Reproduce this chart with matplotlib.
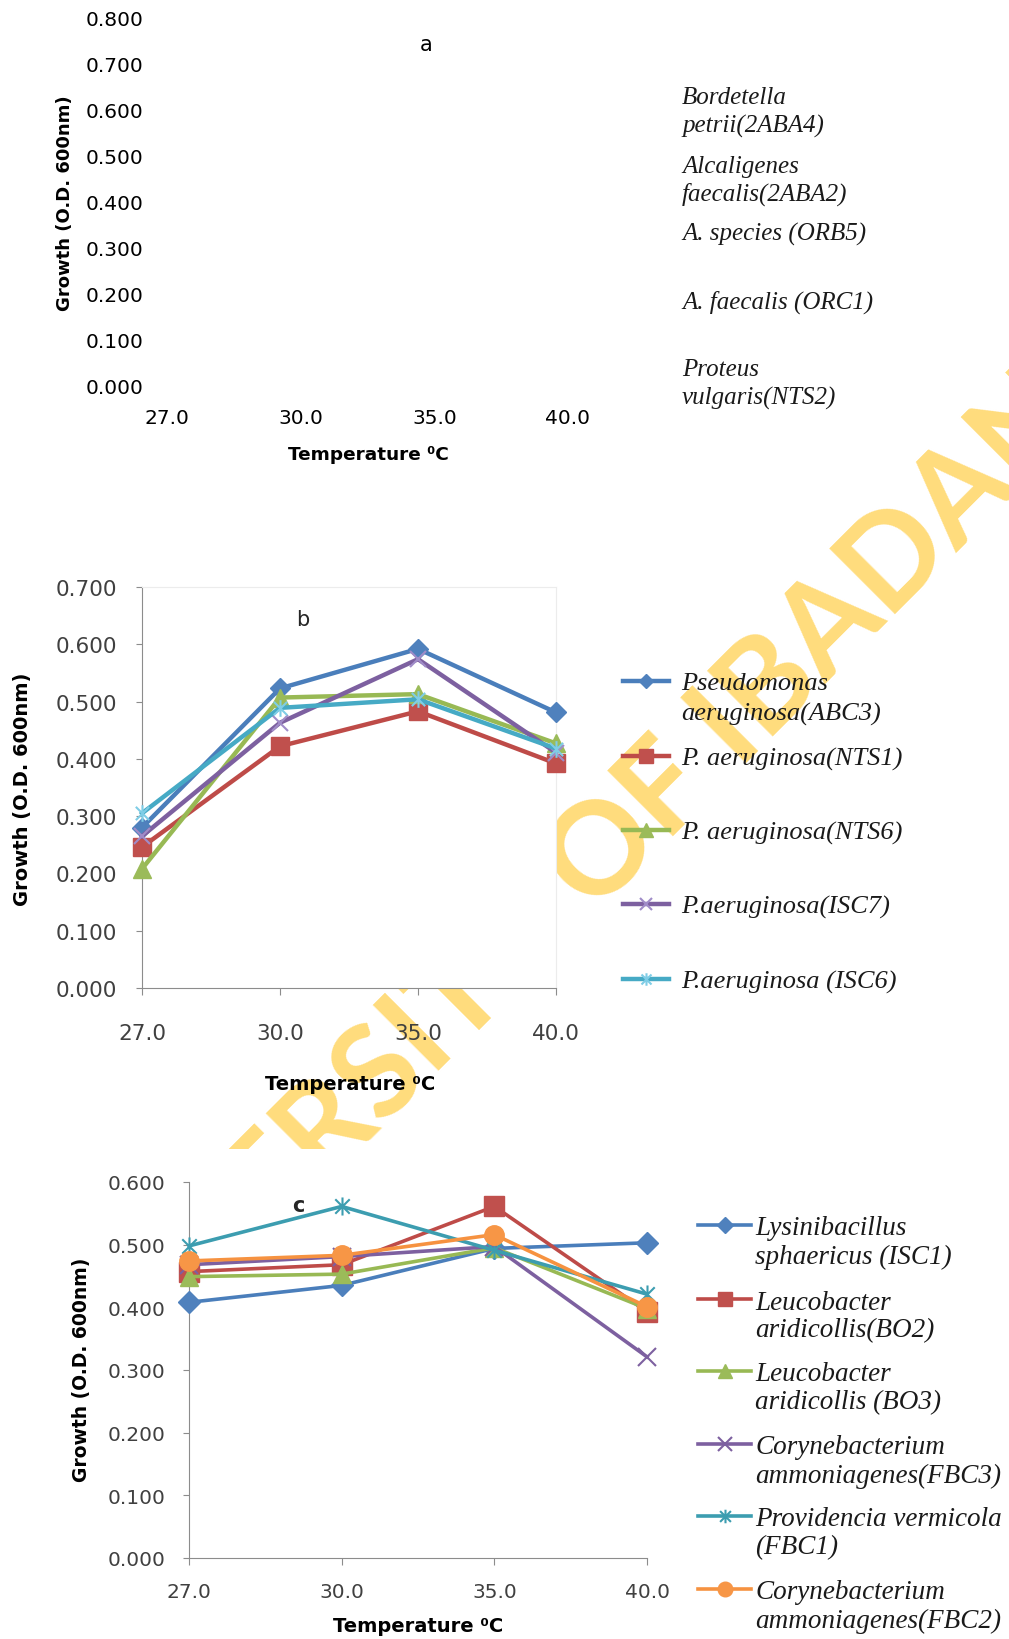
import matplotlib
matplotlib.use("Agg")
import matplotlib.pyplot as plt
from matplotlib import font_manager
from matplotlib.lines import Line2D
from matplotlib.patches import Rectangle
from matplotlib.path import Path

# %% data
temps = ["27.0", "30.0", "35.0", "40.0"]

# panel a: only the legend names, no series were drawn
names_a = ["Bordetella\npetrii(2ABA4)", "Alcaligenes\nfaecalis(2ABA2)",
           "A. species (ORB5)", "A. faecalis (ORC1)", "Proteus\nvulgaris(NTS2)"]

# panel b
names_b = ["Pseudomonas\naeruginosa(ABC3)", "P. aeruginosa(NTS1)", "P. aeruginosa(NTS6)",
           "P.aeruginosa(ISC7)", "P.aeruginosa (ISC6)"]
abc3 = [0.280, 0.523, 0.592, 0.481]
nts1 = [0.246, 0.422, 0.483, 0.392]
nts6 = [0.208, 0.507, 0.513, 0.427]
isc7 = [0.265, 0.463, 0.574, 0.411]
isc6 = [0.305, 0.489, 0.504, 0.418]

# panel c
names_c = ["Lysinibacillus\nsphaericus (ISC1)", "Leucobacter\naridicollis(BO2)",
           "Leucobacter\naridicollis (BO3)", "Corynebacterium\nammoniagenes(FBC3)",
           "Providencia vermicola\n(FBC1)", "Corynebacterium\nammoniagenes(FBC2)"]
isc1 = [0.408, 0.435, 0.494, 0.503]
bo2 = [0.457, 0.468, 0.561, 0.393]
bo3 = [0.449, 0.453, 0.495, 0.398]
fbc3 = [0.468, 0.481, 0.497, 0.321]
fbc1 = [0.498, 0.561, 0.491, 0.421]
fbc2 = [0.474, 0.483, 0.516, 0.401]

watermark = "UNIVERSITY OF IBADAN"

# %% setup
W, H = 1009, 1640
fig = plt.figure(figsize=(W / 100, H / 100), dpi=100)
plt.rcParams["font.family"] = ["DejaVu Sans"]

installed = {f.name for f in font_manager.fontManager.ttflist}
serif = "Liberation Serif" if "Liberation Serif" in installed else "DejaVu Serif"


def fx(x):
    return x / W


def fy(y):
    return 1 - y / H


# excel-like star marker (x with a vertical bar)
star = Path([(0, -1), (0, 1), (-0.8, -0.8), (0.8, 0.8), (-0.8, 0.8), (0.8, -0.8)],
            [Path.MOVETO, Path.LINETO] * 3)

style_b = [
    dict(color="#4A7EBB", marker="D", ms=10, mfc="#4F81BD", mec="#4F81BD"),
    dict(color="#BE4B48", marker="s", ms=13, mfc="#C0504D", mec="#C0504D"),
    dict(color="#98B954", marker="^", ms=13, mfc="#9BBB59", mec="#9BBB59"),
    dict(color="#7D60A0", marker="x", ms=12, mfc="none", mec="#A08CC8", mew=1.5),
    dict(color="#46AAC5", marker=star, ms=12, mfc="none", mec="#7FCDE6", mew=1.5),
]
style_c = [
    dict(color="#4A7EBB", marker="D", ms=11, mfc="#4F81BD", mec="#4F81BD"),
    dict(color="#BE4B48", marker="s", ms=14, mfc="#C0504D", mec="#C0504D"),
    dict(color="#98B954", marker="^", ms=13, mfc="#9BBB59", mec="#9BBB59"),
    dict(color="#7D60A0", marker="x", ms=13, mfc="none", mec="#7D60A0", mew=1.5),
    dict(color="#3C9DB0", marker=star, ms=13, mfc="none", mec="#3C9DB0", mew=1.5),
    dict(color="#F69240", marker="o", ms=14, mfc="#F79646", mec="#F79646"),
]


def make_axes(left, right, top, bottom, ymax):
    ax = fig.add_axes([fx(left), fy(bottom), (right - left) / W, (bottom - top) / H])
    ax.set_xlim(0, 3)
    ax.set_ylim(0, ymax)
    ax.set_xticks(range(4))
    ax.set_xticklabels(temps)
    ax.set_yticks([i / 10 for i in range(int(round(ymax * 10)) + 1)])
    ax.yaxis.set_major_formatter(matplotlib.ticker.FormatStrFormatter("%.3f"))
    return ax


def draw_legend(labels, ys, styles, x0, x1, xt, dy, size, lw):
    for lab, y, st in zip(labels, ys, styles):
        if st is not None:
            fig.add_artist(Line2D([fx(x0), fx(x1)], [fy(y), fy(y)], transform=fig.transFigure,
                                  color=st["color"], lw=lw))
            fig.add_artist(Line2D([fx((x0 + x1) / 2)], [fy(y)], transform=fig.transFigure,
                                  ls="none", marker=st["marker"], ms=st["ms"] * 0.75,
                                  mfc=st["mfc"], mec=st["mec"], mew=st.get("mew", 1)))
        for i, part in enumerate(lab.split("\n")):
            fig.text(fx(xt), fy(y + i * dy), part, family=serif, style="italic",
                     size=size, ha="left", va="center_baseline", color="#1a1a1a")


def ink_width(s, family, size):
    t = fig.text(0, 0, s, family=family, weight="bold", size=size)
    w = t.get_window_extent(fig.canvas.get_renderer()).width
    t.remove()
    return w


# %% watermark at 45 deg. In pixels from the top-left, the letter centres lie on
# x + y = 1445, the "F" stem starts at s = (x - y) / sqrt(2) = -112 and
# "F IBADA" is about 500 px long.
wm_font = "Lato" if "Lato" in installed else "DejaVu Sans"
wm_size = 100 * 500 / ink_width("F IBADA", wm_font, 100)
em = wm_size * 100 / 72
s0 = -112 - ink_width(watermark[:watermark.index("F")], wm_font, wm_size) - 0.1 * em
c0 = 1445 + 0.72 * em * 2 ** 0.5 / 2
x0 = (c0 + s0 * 2 ** 0.5) / 2
y0 = (c0 - s0 * 2 ** 0.5) / 2
fig.text(fx(x0), fy(y0), watermark, family=wm_font, weight="bold", size=wm_size,
         color="#FFDC7C", rotation=45, rotation_mode="anchor", ha="left", va="baseline", zorder=-3)
# the bottom chart was pasted over the watermark
fig.add_artist(Rectangle((0, 0), 1, fy(1150), transform=fig.transFigure,
                         facecolor="white", edgecolor="none", zorder=-2))

# %% panel a (empty chart, only texts)
ax_a = make_axes(167, 568, 19, 387, 0.8)
ax_a.set_facecolor("none")
for s in ax_a.spines.values():
    s.set_visible(False)
ax_a.tick_params(axis="both", length=0, labelsize=14.5, colors="black")
ax_a.tick_params(axis="y", pad=17)
ax_a.tick_params(axis="x", pad=16)
fig.text(fx(426), fy(45), "a", size=15, ha="center", va="center")
fig.text(fx(368), fy(455), "Temperature \u2070C", size=13.3, weight="bold", ha="center", va="center")
fig.text(fx(65), fy(203), "Growth (O.D. 600nm)", size=13, weight="bold", rotation=90,
         ha="center", va="center")
draw_legend(names_a, [96, 164, 232, 300, 368], [None] * 5, 0, 0, 682, 28, 18, 0)

# %% panel b (white plot area hides the watermark)
ax_b = make_axes(142, 556, 588, 989, 0.7)
ax_b.set_facecolor("white")
for i, (vals, st) in enumerate(zip([abc3, nts1, nts6, isc7, isc6], style_b)):
    ax_b.plot(range(4), vals, color=st["color"], lw=3.2, marker=st["marker"], ms=st["ms"],
              mfc=st["mfc"], mec=st["mec"], mew=st.get("mew", 1), clip_on=False, zorder=3 + i)
for side in ["left", "bottom"]:
    ax_b.spines[side].set_color("#8c8c8c")
for side in ["top", "right"]:
    ax_b.spines[side].set_color("#ececec")
ax_b.tick_params(axis="both", direction="out", color="#8c8c8c", labelsize=15.5, labelcolor="#404040")
ax_b.tick_params(axis="y", length=4, pad=14)
ax_b.tick_params(axis="x", length=5, pad=20)
fig.text(fx(303), fy(620), "b", size=15, ha="center", va="center", color="#262626")
fig.text(fx(350), fy(1084), "Temperature \u2070C", size=14, weight="bold", ha="center", va="center")
fig.text(fx(23), fy(789), "Growth (O.D. 600nm)", size=14, weight="bold", rotation=90,
         ha="center", va="center")
draw_legend(names_b, [682, 757, 831, 905, 980], style_b, 623, 669, 681, 30, 19, 3.2)

# %% panel c
ax_c = make_axes(189, 647, 1183, 1559, 0.6)
ax_c.set_facecolor("white")
for i, (vals, st) in enumerate(zip([isc1, bo2, bo3, fbc3, fbc1, fbc2], style_c)):
    ax_c.plot(range(4), vals, color=st["color"], lw=2.6, marker=st["marker"], ms=st["ms"],
              mfc=st["mfc"], mec=st["mec"], mew=st.get("mew", 1), clip_on=False, zorder=3 + i)
for side in ["left", "bottom"]:
    ax_c.spines[side].set_color("#8c8c8c")
for side in ["top", "right"]:
    ax_c.spines[side].set_visible(False)
ax_c.tick_params(axis="both", direction="out", color="#8c8c8c", labelsize=14.5, labelcolor="#404040")
ax_c.tick_params(axis="y", length=4, pad=13)
ax_c.tick_params(axis="x", length=5, pad=12)
fig.text(fx(298), fy(1206), "c", size=15, weight="bold", ha="center", va="center", color="#262626")
fig.text(fx(418), fy(1627), "Temperature \u2070C", size=14, weight="bold", ha="center", va="center")
fig.text(fx(82), fy(1370), "Growth (O.D. 600nm)", size=13.5, weight="bold", rotation=90,
         ha="center", va="center")
draw_legend(names_c, [1226, 1300, 1372, 1445, 1517, 1590], style_c, 698, 751, 755, 28, 19.5, 2.6)

fig.savefig("out.png", dpi=100)
